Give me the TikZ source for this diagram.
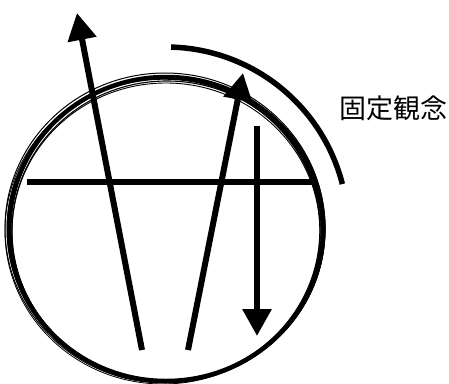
\documentclass[tikz,border=0pt]{standalone}
\usepackage{fontspec}
\newfontfamily\jpfont{Noto Sans CJK JP}
\usetikzlibrary{arrows.meta, calc, positioning}

\begin{document}
\begin{tikzpicture}[x=1pt, y=-1pt, >={Triangle[length=27pt, width=28pt]}]
    % Khung ảnh
    \useasboundingbox (0,0) rectangle (449,383);

    % Các điểm mốc
    \coordinate (O) at (166,229);
    \coordinate (A1) at (142,350);
    \coordinate (A2) at (77,13);
    \coordinate (B1) at (188,350);
    \coordinate (B2) at (243,73);
    \coordinate (C1) at (257,126);
    \coordinate (C2) at (257,336);
    \coordinate (L1) at (27,182);
    \coordinate (L2) at (313,182);

    % 1. Vòng tròn nét cọ
    \draw[line width=4.5pt] (O) ellipse [x radius=157, y radius=152];
    \foreach \dx/\dy/\r/\w in {-2/1/155/1.4, 1/2/154/1.1, -1/-1/159/1.0, 2/0/156/1.2, 0/3/153/0.9, -3/2/157/0.8}
        \draw[line width=\w pt] ($(O)+(\dx,\dy)$) ellipse [x radius=\r+1, y radius=\r-4];
    % phần nét đậm phía dưới
    \draw[line width=3pt] (O) ++(-5:158 and 152) arc[start angle=-5, end angle=200, x radius=158, y radius=152];

    % 2. Đường ngang
    \draw[line width=5.5pt] (L1) -- (L2);

    % 3. Các mũi tên
    \draw[->, line width=6pt] (A1) -- (A2);
    \draw[->, line width=6pt] (B1) -- (B2);
    \draw[->, line width=6pt] (C1) -- (C2);

    % 4. Cung tròn bên ngoài
    \draw[line width=5.5pt] (O) ++(-88.4:182) arc[start angle=-88.4, end angle=-14.3, radius=182];

    % 5. Nhãn
    \node[font=\jpfont\fontsize{27}{27}\selectfont] (lbl) at (393,108) {固定観念};
\end{tikzpicture}
\end{document}
